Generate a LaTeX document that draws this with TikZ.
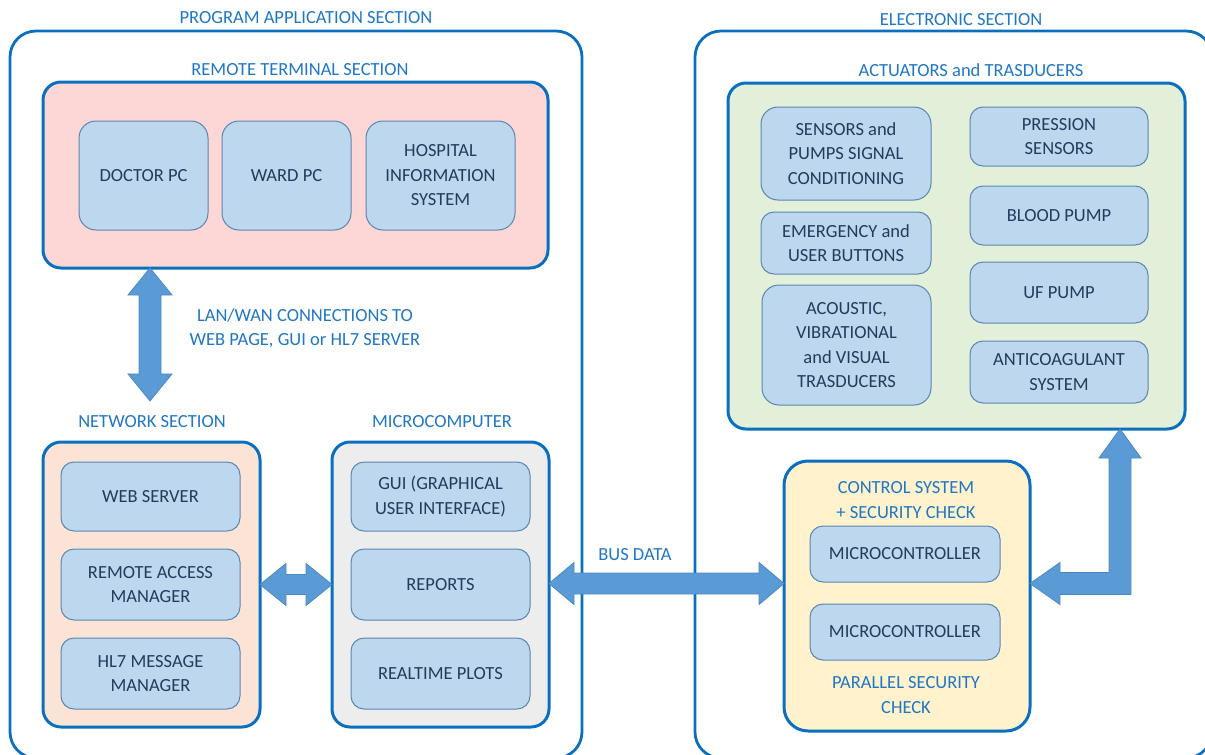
\documentclass[tikz,border=0pt]{standalone}
\usepackage{fontspec}
\setmainfont{Carlito}
\usetikzlibrary{calc}
\definecolor{frameblue}{HTML}{0B6FBF}
\definecolor{titleblue}{HTML}{1F77C6}
\definecolor{boxfill}{HTML}{BDD7EE}
\definecolor{boxline}{HTML}{5A86B0}
\definecolor{boxtext}{HTML}{263A5C}
\definecolor{arrowfill}{HTML}{5B9BD5}
\definecolor{arrowline}{HTML}{4A88C4}
\definecolor{pinkfill}{HTML}{FDD6D6}
\definecolor{peachfill}{HTML}{FBE4D5}
\definecolor{grayfill}{HTML}{EDEDED}
\definecolor{greenfill}{HTML}{E2EFD9}
\definecolor{yellowfill}{HTML}{FFF2CC}
\begin{document}
\begin{tikzpicture}[x=1pt,y=-1pt,
  every node/.style={font=\fontsize{18.5}{24.5}\selectfont, inner sep=0pt, outer sep=0pt},
  outerframe/.style={draw=frameblue, line width=2.8pt, rounded corners=26pt},
  secbox/.style={draw=frameblue, line width=3pt, rounded corners=18pt},
  cell/.style={draw=boxline, line width=1pt, fill=boxfill, rounded corners=13pt, text=boxtext, align=center},
  bigcell/.style={cell, rounded corners=17pt},
  ttl/.style={text=titleblue, align=center},
  bigarrow/.style={fill=arrowfill, draw=arrowline, line width=0.8pt, line join=miter},
]
\useasboundingbox (0,0) rectangle (1205,755);
\clip (0,0) rectangle (1205,755);

% outer frames
\node[outerframe, minimum width=572pt, minimum height=727pt] (pas) at (296,394.5) {};
\node[outerframe, minimum width=517pt, minimum height=727pt] (es) at (953.5,394.5) {};
\node[ttl] (tpas) at (306,18) {PROGRAM APPLICATION SECTION};
\node[ttl] (tes) at (961,20) {ELECTRONIC SECTION};

% section boxes
\node[secbox, fill=pinkfill, minimum width=505pt, minimum height=186pt] (rts) at (295.5,175) {};
\node[ttl] (trts) at (300,70) {REMOTE TERMINAL SECTION};
\node[secbox, fill=peachfill, minimum width=217pt, minimum height=285pt] (net) at (151.5,584.5) {};
\node[ttl] (tnet) at (152,422) {NETWORK SECTION};
\node[secbox, fill=grayfill, minimum width=217pt, minimum height=285pt] (mc) at (440.5,584.5) {};
\node[ttl] (tmc) at (442,422) {MICROCOMPUTER};
\node[secbox, fill=greenfill, minimum width=457pt, minimum height=346pt] (act) at (956.5,256) {};
\node[ttl] (tact) at (971,70) {ACTUATORS and TRASDUCERS};
\node[secbox, fill=yellowfill, minimum width=246pt, minimum height=270pt, rounded corners=24pt] (ctl) at (907,596) {};
\node[ttl] (tctl) at (906,500) {CONTROL SYSTEM\\+ SECURITY CHECK};
\node[ttl] (tpar) at (906,695) {PARALLEL SECURITY\\CHECK};

% remote terminal units
\node[bigcell, minimum width=129pt, minimum height=109pt] (doc) at (143.5,175.5) {DOCTOR PC};
\node[bigcell, minimum width=129pt, minimum height=109pt] (ward) at (286.5,175.5) {WARD PC};
\node[bigcell, minimum width=149pt, minimum height=109pt] (his) at (440.5,175.5) {HOSPITAL\\INFORMATION\\SYSTEM};

% network units
\node[cell, minimum width=179pt, minimum height=69pt] (web) at (150.5,496.5) {WEB SERVER};
\node[cell, minimum width=179pt, minimum height=71pt] (ram) at (150.5,584.5) {REMOTE ACCESS\\MANAGER};
\node[cell, minimum width=179pt, minimum height=71pt] (hl7) at (150.5,673.5) {HL7 MESSAGE\\MANAGER};

% microcomputer units
\node[cell, minimum width=179pt, minimum height=69pt] (gui) at (440.5,496.5) {GUI (GRAPHICAL\\USER INTERFACE)};
\node[cell, minimum width=179pt, minimum height=71pt] (rep) at (440.5,584.5) {REPORTS};
\node[cell, minimum width=179pt, minimum height=71pt] (rtp) at (440.5,673.5) {REALTIME PLOTS};

% actuators and transducers
\node[bigcell, minimum width=170pt, minimum height=93pt] (sen) at (846,153.5) {SENSORS and\\PUMPS SIGNAL\\CONDITIONING};
\node[cell, minimum width=170pt, minimum height=62pt] (emg) at (846,243) {EMERGENCY and\\USER BUTTONS};
\node[bigcell, minimum width=169pt, minimum height=120pt] (aco) at (846.5,345) {ACOUSTIC,\\VIBRATIONAL\\and VISUAL\\TRASDUCERS};
\node[cell, minimum width=178pt, minimum height=59pt] (pre) at (1059,136.5) {PRESSION\\SENSORS};
\node[cell, minimum width=178pt, minimum height=59pt] (blood) at (1059,215.5) {BLOOD PUMP};
\node[cell, minimum width=178pt, minimum height=61pt] (uf) at (1059,292.5) {UF PUMP};
\node[cell, minimum width=178pt, minimum height=62pt] (anti) at (1059,372) {ANTICOAGULANT\\SYSTEM};

% control system
\node[cell, minimum width=190pt, minimum height=56pt] (mc1) at (905,554) {MICROCONTROLLER};
\node[cell, minimum width=190pt, minimum height=56pt] (mc2) at (905,632) {MICROCONTROLLER};

% labels
\node[ttl] (lan) at (305,328.5) {LAN/WAN CONNECTIONS TO\\WEB PAGE, GUI or HL7 SERVER};
\node[ttl] (bus) at (635,555) {BUS DATA};

% arrows
% vertical LAN/WAN double arrow
\coordinate (T) at ($(rts.south west)+(107,0)$);
\coordinate (B) at ($(tnet.north)+(-2,-15)$);
\draw[bigarrow] (T) -- ($(T)+(22,27)$) -- ($(T)+(11,27)$) -- ($(B)+(11,-27)$) -- ($(B)+(22,-27)$)
  -- (B) -- ($(B)+(-22,-27)$) -- ($(B)+(-11,-27)$) -- ($(T)+(-11,27)$) -- ($(T)+(-22,27)$) -- cycle;

% network <-> microcomputer
\coordinate (NL) at (net.east);
\coordinate (NR) at (mc.west);
\draw[bigarrow] (NL) -- ($(NL)+(26,-21)$) -- ($(NL)+(26,-10)$) -- ($(NR)+(-26,-10)$) -- ($(NR)+(-26,-21)$)
  -- (NR) -- ($(NR)+(-26,21)$) -- ($(NR)+(-26,10)$) -- ($(NL)+(26,10)$) -- ($(NL)+(26,21)$) -- cycle;

% bus data
\coordinate (BL) at ($(mc.east)+(0,-1)$);
\coordinate (BR) at ($(ctl.west |- mc.east)+(0,-1)$);
\draw[bigarrow] (BL) -- ($(BL)+(25,-21)$) -- ($(BL)+(25,-10.5)$) -- ($(BR)+(-25,-10.5)$) -- ($(BR)+(-25,-21)$)
  -- (BR) -- ($(BR)+(-25,21)$) -- ($(BR)+(-25,10.5)$) -- ($(BL)+(25,10.5)$) -- ($(BL)+(25,21)$) -- cycle;

% elbow arrow control <-> actuators
\coordinate (L) at ($(ctl.east |- mc.east)+(0,-1)$);
\coordinate (U) at ($(act.south east)+(-65,0)$);
\draw[bigarrow] (L) -- ($(L)+(30,-21)$) -- ($(L)+(30,-11)$) -- ($(U |- L)+(-11,-11)$) -- ($(U)+(-11,29)$)
  -- ($(U)+(-21,29)$) -- (U) -- ($(U)+(21,29)$) -- ($(U)+(11,29)$) -- ($(U |- L)+(11,11)$)
  -- ($(L)+(30,11)$) -- ($(L)+(30,21)$) -- cycle;
\end{tikzpicture}
\end{document}
